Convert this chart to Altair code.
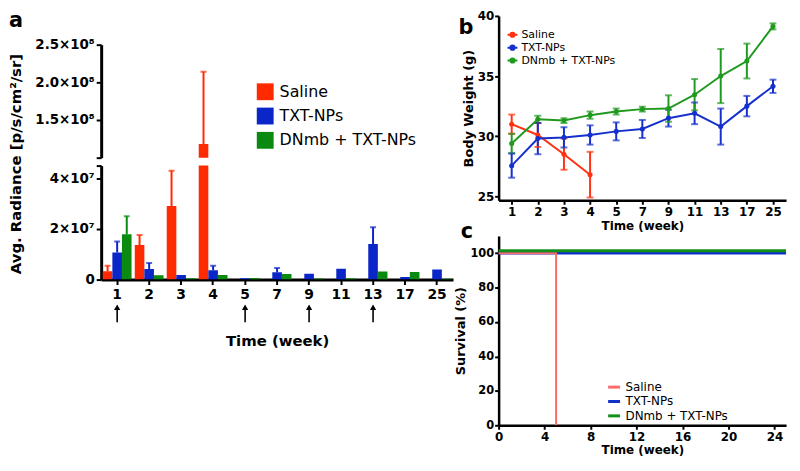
import altair as alt
import pandas as pd

FONT = "DejaVu Sans"

weeks = ["1", "2", "3", "4", "5", "7", "9", "11", "13", "17", "25"]
groups = ["Saline", "TXT-NPs", "DNmb + TXT-NPs"]

# ---- panel a: Avg. radiance (mean, upper error) ----
a_saline = [3.3e6, 1.37e7, 2.9e7, 1.18e8, None, None, None, None, None, None, None]
a_saline_err = [2.2e6, 3.9e6, 1.4e7, 9.6e7, 0, 0, 0, 0, 0, 0, 0]
a_txt = [1.07e7, 4.2e6, 1.8e6, 3.7e6, 0.5e6, 2.9e6, 2.3e6, 4.3e6, 1.4e7, 1.0e6, 4.0e6]
a_txt_err = [4.3e6, 2.3e6, 0, 1.8e6, 0, 1.7e6, 0, 0, 6.7e6, 0, 0]
a_dnmb = [1.79e7, 1.7e6, 0.5e6, 1.8e6, 0.6e6, 2.2e6, 0.4e6, 0.5e6, 3.2e6, 3.0e6, 0.3e6]
a_dnmb_err = [7.1e6, 0, 0, 0, 0, 0, 0, 0, 0, 0, 0]
arrow_weeks = ["1", "5", "9", "13"]

# ---- panel b: body weight (g), mean +/- error ----
b_saline = [31.0, 30.1, 28.5, 26.8, None, None, None, None, None, None, None]
b_saline_err = [0.8, 1.0, 1.3, 1.9, 0, 0, 0, 0, 0, 0, 0]
b_txt = [27.55, 29.8, 29.9, 30.1, 30.4, 30.6, 31.5, 31.9, 30.8, 32.5, 34.15]
b_txt_err = [1.0, 1.3, 0.85, 0.8, 0.75, 0.75, 0.7, 0.9, 1.5, 0.85, 0.55]
b_dnmb = [29.4, 31.4, 31.3, 31.75, 32.05, 32.25, 32.3, 33.45, 35.0, 36.25, 39.13]
b_dnmb_err = [0.8, 0.3, 0.2, 0.3, 0.25, 0.2, 1.1, 1.3, 2.25, 1.45, 0.25]

# ---- panel c: survival (%) step curves ----
c_saline_t = [0, 5, 5]
c_saline_s = [100, 100, 0]
c_txt_t = [0, 25]
c_txt_s = [100, 100]
c_dnmb_t = [0, 25]
c_dnmb_s = [100, 100]

a_colors = ["#ff2a00", "#0a26c8", "#0b8a12"]
b_colors = ["#ff3314", "#1530cc", "#1f9a1f"]
c_colors = ["#ff6a6a", "#1030cc", "#14901a"]

# ---------- build tables ----------
rows = []
for g, vals, errs in zip(groups, [a_saline, a_txt, a_dnmb], [a_saline_err, a_txt_err, a_dnmb_err]):
    for w, v, e in zip(weeks, vals, errs):
        if v is None:
            continue
        rows.append(dict(week=w, group=g, value=v, hi=v + e, err=e))
dfa = pd.DataFrame(rows)
dfa_err = dfa[dfa["err"] > 0]
dfarrow = pd.DataFrame({"week": arrow_weeks})

rows = []
for g, vals, errs in zip(groups, [b_saline, b_txt, b_dnmb], [b_saline_err, b_txt_err, b_dnmb_err]):
    for w, v, e in zip(weeks, vals, errs):
        if v is None:
            continue
        rows.append(dict(week=w, group=g, value=v, lo=v - e, hi=v + e))
dfb = pd.DataFrame(rows)

rows = []
for g, ts, ss in zip(groups, [c_saline_t, c_txt_t, c_dnmb_t], [c_saline_s, c_txt_s, c_dnmb_s]):
    for i, (t, s) in enumerate(zip(ts, ss)):
        rows.append(dict(group=g, t=t, s=s, idx=i))
dfc = pd.DataFrame(rows)

# ---------- panel a ----------
A_W = 355
xscale_a = alt.Scale(domain=weeks, paddingInner=0.1, paddingOuter=0.05)
xoff_a = alt.XOffset("group:N", sort=groups, scale=alt.Scale(domain=groups, paddingInner=0, paddingOuter=0))

ax_a_x = alt.Axis(title="Time (week)", labelAngle=0, labelFontSize=14, labelFontWeight="bold",
                  titleFontSize=15, titleFontWeight="bold", titlePadding=33, tickSize=5,
                  tickWidth=2, domainWidth=3, labelPadding=3)

ax_a_top = alt.Axis(values=[1e8, 1.5e8, 2e8, 2.5e8], title=None,
                    labelExpr="datum.value < 1.2e8 ? '' : format(datum.value/1e8, '.1f') + '×10⁸'",
                    labelFontSize=13.5, labelFontWeight="bold", tickSize=5, tickWidth=2,
                    domainWidth=3, labelPadding=2)
ax_a_bot = alt.Axis(values=[0, 2e7, 4e7, 4.5e7], title="Avg. Radiance [p/s/cm²/sr]",
                    labelExpr="datum.value == 0 ? '0' : (datum.value > 4.2e7 ? '' : format(datum.value/1e7, 'd') + '×10⁷')",
                    labelFontSize=13.5, labelFontWeight="bold", tickSize=5, tickWidth=2,
                    domainWidth=3, labelPadding=2, titleFontSize=15, titleFontWeight="bold",
                    titleX=-86, titleY=-2, titleAngle=270, titleAlign="center", titleBaseline="middle")


def a_panel(ydom, yaxis, xaxis, legend, height, arrows):
    ysc = alt.Scale(domain=ydom, nice=False, zero=False)
    colr = alt.Color("group:N", sort=groups, scale=alt.Scale(domain=groups, range=a_colors), legend=legend)
    xenc = alt.X("week:N", sort=weeks, scale=xscale_a, axis=xaxis)
    bars = alt.Chart(dfa).mark_bar(clip=True).encode(
        x=xenc, xOffset=xoff_a, color=colr, y=alt.Y("value:Q", scale=ysc, axis=yaxis))
    rules = alt.Chart(dfa_err).mark_rule(clip=True, strokeWidth=2).encode(
        x=xenc, xOffset=xoff_a, color=colr, y=alt.Y("value:Q", scale=ysc, axis=yaxis), y2="hi:Q")
    caps = alt.Chart(dfa_err).mark_tick(clip=True, thickness=2, size=6, orient="horizontal").encode(
        x=xenc, xOffset=xoff_a, color=colr, y=alt.Y("hi:Q", scale=ysc, axis=yaxis))
    layers = [bars, rules, caps]
    if arrows:
        shaft = alt.Chart(dfarrow).mark_rule(color="black", strokeWidth=1.6).encode(
            x=xenc, y=alt.value(144), y2=alt.value(158))
        head = alt.Chart(dfarrow).mark_point(shape="triangle-up", filled=True, size=40,
                                             color="black", opacity=1).encode(
            x=xenc, y=alt.value(143))
        layers += [shaft, head]
    return alt.layer(*layers).properties(width=A_W, height=height)


legend_a = alt.Legend(title=None, orient="none", legendX=157, legendY=39, symbolType="square",
                      symbolSize=289, labelFontSize=16, labelFont=FONT, rowPadding=7.5,
                      labelOffset=6, symbolStrokeWidth=0, symbolOpacity=1)

a_top = a_panel([1e8, 2.5e8], ax_a_top, None, legend_a, 114, False)
a_bot = a_panel([0, 4.5e7], ax_a_bot, ax_a_x, None, 115, True)

spacer = alt.Chart(pd.DataFrame({"t": ["a"]})).mark_text(
    fontSize=21, fontWeight="bold", font=FONT, align="center", baseline="middle", color="black"
).encode(text="t:N", x=alt.value(-86), y=alt.value(5)).properties(width=A_W, height=21)

left = alt.vconcat(spacer, a_top, a_bot, spacing=8, bounds="flush").resolve_scale(color="independent")

# ---------- panel b ----------
R_W = 290
xb = alt.X("week:N", sort=weeks, scale=alt.Scale(type="point", domain=weeks, padding=0.5),
           axis=alt.Axis(title="Time (week)", labelAngle=0, labelFontSize=12, labelFontWeight="bold",
                         titleFontSize=12, titleFontWeight="bold", titlePadding=3, tickSize=4,
                         tickWidth=2, domainWidth=2.5, labelPadding=2))
ysb = alt.Scale(domain=[24.67, 40], nice=False, zero=False)
ayb = alt.Axis(values=[25, 30, 35, 40], title="Body Weight (g)", labelFontSize=12,
               labelFontWeight="bold", titleFontSize=13, titleFontWeight="bold", titlePadding=2,
               tickSize=4, tickWidth=2, domainWidth=2.5, labelPadding=1)
legend_b = alt.Legend(title=None, orient="none", legendX=8, legendY=13,
                      symbolType="M-1,0L1,0M0.42,0A0.42,0.42,0,1,1,-0.42,0A0.42,0.42,0,1,1,0.42,0",
                      symbolSize=100, symbolStrokeWidth=2, labelFontSize=11, labelFont=FONT,
                      rowPadding=-1, labelOffset=3, symbolOpacity=1)
colb = alt.Color("group:N", sort=groups, scale=alt.Scale(domain=groups, range=b_colors), legend=legend_b)

b_line = alt.Chart(dfb).mark_line(strokeWidth=2).encode(
    x=xb, y=alt.Y("value:Q", scale=ysb, axis=ayb), color=colb)
b_pts = alt.Chart(dfb).mark_circle(size=26, opacity=1).encode(
    x=xb, y=alt.Y("value:Q", scale=ysb, axis=ayb), color=colb)
b_err = alt.Chart(dfb).mark_rule(strokeWidth=2).encode(
    x=xb, y=alt.Y("lo:Q", scale=ysb, axis=ayb), y2="hi:Q", color=colb)
b_cap_lo = alt.Chart(dfb).mark_tick(thickness=2, size=7, orient="horizontal").encode(
    x=xb, y=alt.Y("lo:Q", scale=ysb, axis=ayb), color=colb)
b_cap_hi = alt.Chart(dfb).mark_tick(thickness=2, size=7, orient="horizontal").encode(
    x=xb, y=alt.Y("hi:Q", scale=ysb, axis=ayb), color=colb)
b_lab = alt.Chart(pd.DataFrame({"t": ["b"]})).mark_text(
    fontSize=21, fontWeight="bold", font=FONT, align="center", baseline="middle", color="black"
).encode(text="t:N", x=alt.value(-33), y=alt.value(12))
panel_b = alt.layer(b_err, b_cap_lo, b_cap_hi, b_line, b_pts, b_lab).properties(width=R_W, height=186)

# ---------- panel c ----------
xc = alt.X("t:Q", scale=alt.Scale(domain=[0, 25], nice=False, zero=False),
           axis=alt.Axis(values=[0, 4, 8, 12, 16, 20, 24], title="Time (week)", labelFontSize=12,
                         labelFontWeight="bold", titleFontSize=12, titleFontWeight="bold",
                         titlePadding=2, tickSize=4, tickWidth=2, domainWidth=2.5, labelPadding=2,
                         labelFlush=False))
yc = alt.Y("s:Q", scale=alt.Scale(domain=[0, 110], nice=False),
           axis=alt.Axis(values=[0, 20, 40, 60, 80, 100], title="Survival (%)", labelFontSize=11.5,
                         labelFontWeight="bold", titleFontSize=13, titleFontWeight="bold",
                         titlePadding=2, tickSize=4, tickWidth=2, domainWidth=2.5, labelPadding=1))
legend_c = alt.Legend(title=None, orient="none", legendX=109, legendY=145, symbolType="stroke",
                      symbolSize=144, symbolStrokeWidth=3, labelFontSize=12, labelFont=FONT,
                      rowPadding=0.5, labelOffset=4, symbolOpacity=1)
colc = alt.Color("group:N", sort=groups, scale=alt.Scale(domain=groups, range=c_colors), legend=legend_c)
c_txt = alt.Chart(dfc).transform_filter(alt.datum.group == "TXT-NPs").mark_line(strokeWidth=2.5).encode(
    x=xc, y=yc, color=colc, order="idx:Q")
c_sal = alt.Chart(dfc).transform_filter(alt.datum.group == "Saline").mark_line(strokeWidth=2).encode(
    x=xc, y=yc, color=colc, order="idx:Q")
c_dn = alt.Chart(dfc).transform_filter(alt.datum.group == "DNmb + TXT-NPs").mark_line(
    strokeWidth=3, yOffset=-2.5).encode(x=xc, y=yc, color=colc, order="idx:Q")
c_lab = alt.Chart(pd.DataFrame({"t": ["c"]})).mark_text(
    fontSize=21, fontWeight="bold", font=FONT, align="center", baseline="middle", color="black"
).encode(text="t:N", x=alt.value(-32), y=alt.value(-4))
panel_c = alt.layer(c_txt, c_sal, c_dn, c_lab).properties(width=R_W, height=191)

right = alt.vconcat(panel_b, panel_c, spacing=36, bounds="flush").resolve_scale(color="independent")

chart = alt.hconcat(left, right, spacing=1).resolve_scale(color="independent").properties(
    padding=0
).configure_view(stroke=None).configure_axis(
    labelFont=FONT, titleFont=FONT, labelColor="black", titleColor="black",
    domainColor="black", tickColor="black", grid=False
).configure_legend(labelFont=FONT, labelColor="black")

chart.save("out.html", embed_options={"renderer": "svg", "actions": False})
